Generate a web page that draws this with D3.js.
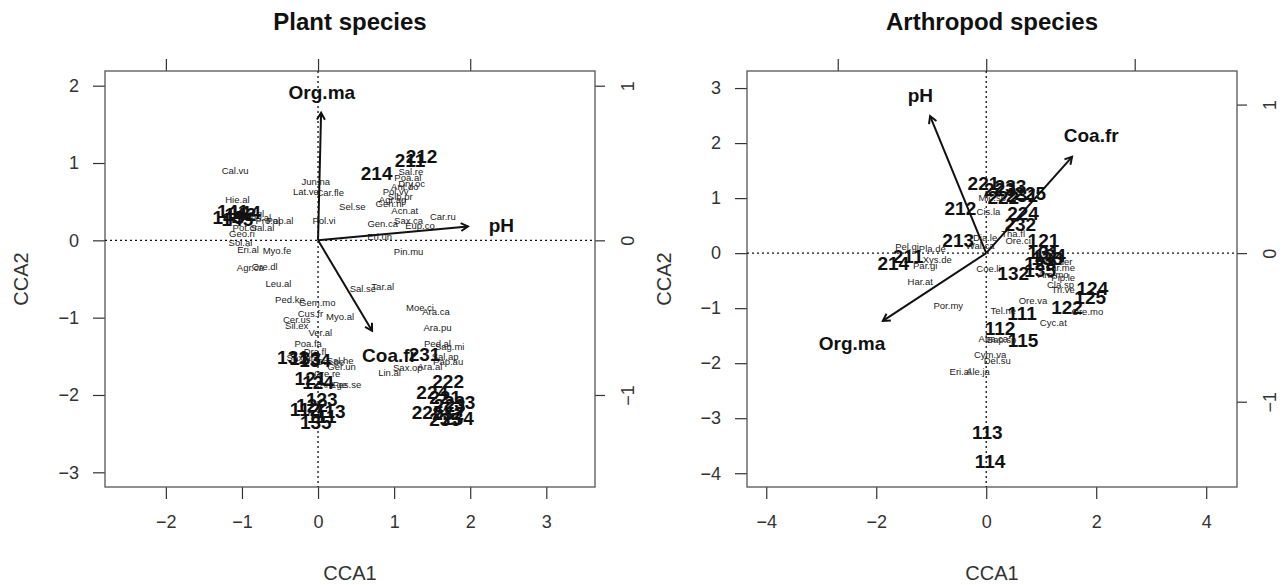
<!DOCTYPE html>
<html>
<head>
<meta charset="utf-8">
<script src="https://cdn.jsdelivr.net/npm/d3@7"></script>
<style>
  html, body { margin: 0; padding: 0; background: #fff; }
  svg { display: block; font-family: "Liberation Sans", Arial, sans-serif; }
</style>
</head>
<body>
<svg id="chart" width="1287" height="585"></svg>
<script>
// ---- Plant CCA: species scores [name, CCA1, CCA2]
const plantSpecies = [
  ["Cal.vu", -1.09, 0.90], ["Jun.na", -0.03, 0.76], ["Lat.ve", -0.16, 0.63],
  ["Car.fle", 0.16, 0.61], ["Sel.se", 0.45, 0.43], ["Pol.vi", 0.08, 0.25],
  ["Hie.al", -1.06, 0.52], ["Pro.al", -0.66, 0.25], ["Pop.al", -0.50, 0.25],
  ["Ran.gl", -0.89, 0.34], ["Ses.al", -0.79, 0.29], ["Sal.al", -0.73, 0.17],
  ["Pot.cr", -0.96, 0.16], ["Geo.ri", -1.00, 0.08], ["Sol.al", -1.02, -0.03],
  ["Eri.al", -0.92, -0.12], ["Myo.fe", -0.54, -0.14], ["Agr.ca", -0.89, -0.36],
  ["Ore.dl", -0.70, -0.34],
  ["Sal.re", 1.22, 0.89], ["Poa.al", 1.18, 0.81], ["Dry.oc", 1.23, 0.73],
  ["Ant.do", 1.14, 0.69], ["Pol.vv", 1.02, 0.63], ["Sib.pr", 1.08, 0.56],
  ["Agr.ag", 0.98, 0.52], ["Gen.ni", 0.94, 0.47], ["Acn.at", 1.14, 0.39],
  ["Car.ru", 1.64, 0.30], ["Sax.ca", 1.19, 0.25], ["Gen.ca", 0.85, 0.21],
  ["Eup.co", 1.34, 0.19], ["Eri.un", 0.81, 0.05], ["Pin.mu", 1.19, -0.15],
  ["Leu.al", -0.52, -0.56], ["Sal.se", 0.59, -0.63], ["Tar.al", 0.85, -0.60],
  ["Ped.ke", -0.37, -0.77], ["Gem.mo", -0.01, -0.80], ["Moe.ci", 1.34, -0.87],
  ["Ara.ca", 1.55, -0.92], ["Cus.fr", -0.10, -0.95], ["Myo.al", 0.29, -0.99],
  ["Cer.us", -0.28, -1.03], ["Sil.ex", -0.28, -1.11], ["Ara.pu", 1.57, -1.13],
  ["Ver.al", 0.03, -1.20], ["Poa.fa", -0.13, -1.34], ["Ped.al", 1.57, -1.33],
  ["Sag.mi", 1.73, -1.38], ["Sal.ap", 1.67, -1.51], ["Pap.au", 1.71, -1.57],
  ["Sax.al", -0.24, -1.52], ["Dra.fl", -0.04, -1.44], ["Cer.pe", 0.16, -1.57],
  ["Sal.he", 0.29, -1.55], ["Ger.un", 0.31, -1.64], ["Sax.op", 1.18, -1.65],
  ["Ara.al", 1.47, -1.64], ["Lin.al", 0.94, -1.71], ["Cre.re", 0.12, -1.73],
  ["Ant.ge", 0.20, -1.87], ["Fes.se", 0.38, -1.87]
];
// ---- Plant CCA: site scores [label, CCA1, CCA2]
const plantSites = [
  ["141", -1.12, 0.37], ["142", -1.02, 0.33], ["143", -1.18, 0.30],
  ["144", -0.96, 0.36], ["145", -1.06, 0.27],
  ["214", 0.77, 0.86], ["211", 1.21, 1.04], ["212", 1.36, 1.08],
  ["231", 1.40, -1.48],
  ["131", -0.33, -1.51], ["133", -0.17, -1.53], ["134", -0.04, -1.55],
  ["121", -0.10, -1.78], ["124", 0.00, -1.84],
  ["123", 0.05, -2.05], ["122", -0.08, -2.13], ["112", -0.17, -2.19],
  ["113", 0.16, -2.21], ["111", 0.05, -2.27], ["135", -0.03, -2.35],
  ["222", 1.71, -1.82], ["224", 1.50, -1.97], ["221", 1.67, -2.03],
  ["233", 1.86, -2.09], ["223", 1.73, -2.14], ["225", 1.44, -2.22],
  ["232", 1.71, -2.24], ["234", 1.84, -2.30], ["235", 1.67, -2.31]
];
// ---- Plant CCA: environmental arrows [name, tipX, tipY, labelX, labelY] (biplot units)
const plantArrows = [
  ["Org.ma", 0.02, 0.825, 0.025, 0.96],
  ["pH", 0.985, 0.09, 1.205, 0.095],
  ["Coa.fr", 0.355, -0.585, 0.47, -0.745]
];

// ---- Arthropod CCA: species scores
const arthSpecies = [
  ["Mic.sp", 0.11, 1.00], ["Cis.la", 0.04, 0.75], ["Dia.le", -0.02, 0.29],
  ["Wal.ca", -0.11, 0.13], ["Tha.fl", 0.49, 0.36], ["Ore.ci", 0.58, 0.22],
  ["Pel.gi", -1.44, 0.11], ["Pla.de", -0.98, 0.09], ["Xys.de", -0.89, -0.11],
  ["Par.gi", -1.11, -0.22], ["Har.at", -1.20, -0.51], ["Coe.li", 0.04, -0.29],
  ["Ant.der", 1.29, -0.15], ["Lar.me", 1.35, -0.27], ["Ara.mo", 1.22, -0.40],
  ["Pip.le", 1.40, -0.45], ["Cla.sp", 1.35, -0.58], ["Tri.ve", 1.40, -0.67],
  ["Ore.va", 0.85, -0.87], ["Ore.mo", 1.84, -1.07], ["Cyc.at", 1.22, -1.27],
  ["Por.my", -0.69, -0.96], ["Tel.ne", 0.31, -1.04], ["Aba.ca", 0.13, -1.55],
  ["Bap.sp", 0.28, -1.58], ["Cym.va", 0.07, -1.85], ["Del.su", 0.20, -1.95],
  ["Eri.al", -0.47, -2.16], ["Ale.ja", -0.15, -2.16]
];
// ---- Arthropod CCA: site scores
const arthSites = [
  ["221", -0.05, 1.27], ["233", 0.44, 1.22], ["223", 0.25, 1.16],
  ["222", 0.31, 1.02], ["231", 0.65, 1.05], ["225", 0.80, 1.09],
  ["212", -0.47, 0.82], ["224", 0.67, 0.73], ["232", 0.62, 0.53],
  ["121", 1.04, 0.24], ["213", -0.51, 0.24], ["211", -1.42, -0.05],
  ["214", -1.69, -0.18], ["131", 1.04, 0.02], ["134", 1.16, -0.04],
  ["133", 1.11, -0.09], ["123", 0.98, -0.18], ["135", 0.98, -0.31],
  ["132", 0.49, -0.36], ["124", 1.93, -0.64], ["125", 1.89, -0.80],
  ["122", 1.47, -0.98], ["111", 0.65, -1.09], ["112", 0.25, -1.36],
  ["115", 0.67, -1.58], ["113", 0.02, -3.25], ["114", 0.07, -3.78]
];
// ---- Arthropod CCA: environmental arrows (biplot units)
const arthArrows = [
  ["pH", -0.378, 0.922, -0.444, 1.063],
  ["Coa.fr", 0.578, 0.648, 0.707, 0.796],
  ["Org.ma", -0.696, -0.456, -0.904, -0.607]
];

// ---- Axis ticks
const plantXTicks = [-2, -1, 0, 1, 2, 3];
const plantYTicks = [-3, -2, -1, 0, 1, 2];
const arthXTicks = [-4, -2, 0, 2, 4];
const arthYTicks = [-4, -3, -2, -1, 0, 1, 2, 3];
const biplotTicks = [-1, 0, 1];

const panels = [
  { title: "Plant species", species: plantSpecies, sites: plantSites, arrows: plantArrows,
    xTicks: plantXTicks, yTicks: plantYTicks, xDomain: [-2.80, 3.64], yDomain: [-3.19, 2.19],
    mul: 2, box: { left: 105, right: 595, top: 71, bottom: 487 }, ylabX: 22 },
  { title: "Arthropod species", species: arthSpecies, sites: arthSites, arrows: arthArrows,
    xTicks: arthXTicks, yTicks: arthYTicks, xDomain: [-4.35, 4.56], yDomain: [-4.25, 3.31],
    mul: 2.7, box: { left: 747, right: 1237, top: 71, bottom: 487 }, ylabX: 665 }
];

const svg = d3.select("#chart");
const ink = "#111";
const axisInk = "#333";

panels.forEach((p, i) => {
  const b = p.box;
  const x = d3.scaleLinear().domain(p.xDomain).range([b.left, b.right]);
  const y = d3.scaleLinear().domain(p.yDomain).range([b.bottom, b.top]);
  const g = svg.append("g");

  // title
  g.append("text").attr("x", (b.left + b.right) / 2).attr("y", 30)
    .attr("text-anchor", "middle").attr("font-weight", "bold").attr("font-size", 24)
    .attr("fill", ink).text(p.title);

  // bottom axis
  const bottom = g.append("g").attr("transform", `translate(0,${b.bottom})`)
    .call(d3.axisBottom(x).tickValues(p.xTicks).tickSize(12).tickPadding(16).tickFormat(d3.format("d")));
  // left axis
  const left = g.append("g").attr("transform", `translate(${b.left},0)`)
    .call(d3.axisLeft(y).tickValues(p.yTicks).tickSize(12).tickPadding(14).tickFormat(d3.format("d")));
  // top axis (biplot scale, unlabeled)
  const top = g.append("g").attr("transform", `translate(0,${b.top})`)
    .call(d3.axisTop(x).tickValues(biplotTicks.map(v => v * p.mul)).tickSize(12).tickFormat(""));
  // right axis (biplot scale)
  const right = g.append("g").attr("transform", `translate(${b.right},0)`)
    .call(d3.axisRight(y).tickValues(biplotTicks.map(v => v * p.mul)).tickSize(10)
      .tickFormat(v => d3.format("d")(Math.round(v / p.mul))));
  right.selectAll(".tick text")
    .attr("x", 0).attr("dy", null).attr("text-anchor", "middle")
    .attr("transform", "translate(33,0) rotate(-90)")
    .attr("dominant-baseline", "central");

  [bottom, left, top, right].forEach(a => {
    a.select(".domain").remove();
    a.selectAll(".tick line").attr("stroke", axisInk).attr("stroke-width", 1.2);
    a.selectAll(".tick text").attr("font-size", 18).attr("fill", axisInk)
      .attr("font-family", "Liberation Sans, Arial, sans-serif");
  });

  // plot frame
  g.append("rect").attr("x", b.left).attr("y", b.top)
    .attr("width", b.right - b.left).attr("height", b.bottom - b.top)
    .attr("fill", "none").attr("stroke", "#555").attr("stroke-width", 1.3);

  // axis titles
  g.append("text").attr("x", (b.left + b.right) / 2).attr("y", 580)
    .attr("text-anchor", "middle").attr("font-size", 20).attr("fill", axisInk).text("CCA1");
  g.append("text").attr("transform", `translate(${p.ylabX + 6},${(b.top + b.bottom) / 2}) rotate(-90)`)
    .attr("text-anchor", "middle").attr("font-size", 20).attr("fill", axisInk).text("CCA2");

  // plot body clipped to frame
  const clipId = "clip" + i;
  svg.append("clipPath").attr("id", clipId).append("rect")
    .attr("x", b.left).attr("y", b.top).attr("width", b.right - b.left).attr("height", b.bottom - b.top);
  const body = g.append("g").attr("clip-path", `url(#${clipId})`);

  // origin cross-hairs
  body.append("line").attr("x1", x(0)).attr("x2", x(0)).attr("y1", b.top).attr("y2", b.bottom)
    .attr("stroke", ink).attr("stroke-width", 1.3).attr("stroke-dasharray", "2,3");
  body.append("line").attr("y1", y(0)).attr("y2", y(0)).attr("x1", b.left).attr("x2", b.right)
    .attr("stroke", ink).attr("stroke-width", 1.3).attr("stroke-dasharray", "2,3");

  // species labels
  body.selectAll("text.sp").data(p.species).join("text").attr("class", "sp")
    .attr("x", d => x(d[1])).attr("y", d => y(d[2])).attr("dy", "0.35em")
    .attr("text-anchor", "middle").attr("font-size", 9.5).attr("fill", "#222")
    .text(d => d[0]);

  // site labels
  body.selectAll("text.site").data(p.sites).join("text").attr("class", "site")
    .attr("x", d => x(d[1])).attr("y", d => y(d[2])).attr("dy", "0.35em")
    .attr("text-anchor", "middle").attr("font-size", 19).attr("font-weight", "bold")
    .attr("fill", ink).text(d => d[0]);

  // environmental arrows
  const ax = v => x(v * p.mul), ay = v => y(v * p.mul);
  p.arrows.forEach(a => {
    const x0 = x(0), y0 = y(0), x1 = ax(a[1]), y1 = ay(a[2]);
    body.append("line").attr("x1", x0).attr("y1", y0).attr("x2", x1).attr("y2", y1)
      .attr("stroke", ink).attr("stroke-width", 2);
    const ang = Math.atan2(y1 - y0, x1 - x0), len = 8, spread = Math.PI / 6;
    const head = [
      [x1 - len * Math.cos(ang - spread), y1 - len * Math.sin(ang - spread)],
      [x1, y1],
      [x1 - len * Math.cos(ang + spread), y1 - len * Math.sin(ang + spread)]
    ];
    body.append("path").attr("d", d3.line()(head)).attr("fill", "none")
      .attr("stroke", ink).attr("stroke-width", 2);
    body.append("text").attr("x", ax(a[3])).attr("y", ay(a[4])).attr("dy", "0.35em")
      .attr("text-anchor", "middle").attr("font-size", 19).attr("font-weight", "bold")
      .attr("fill", ink).text(a[0]);
  });
});
</script>
</body>
</html>
